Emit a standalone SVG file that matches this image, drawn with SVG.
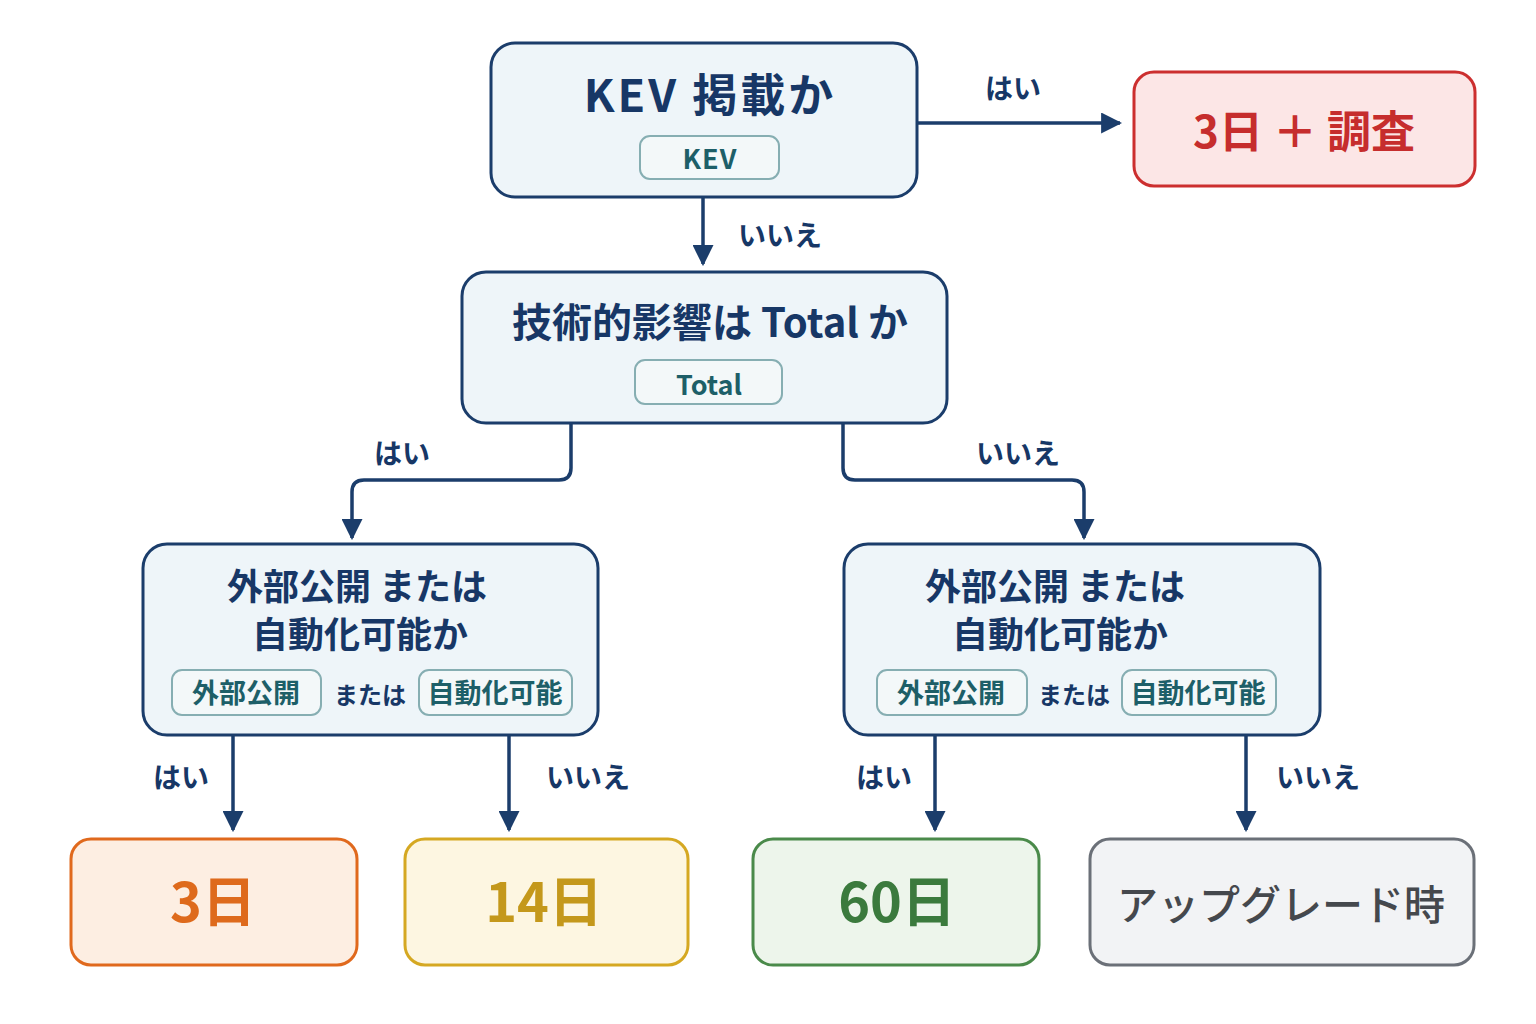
<svg xmlns="http://www.w3.org/2000/svg" width="1536" height="1024" viewBox="0 0 1536 1024">
<defs>
<style>
text{font-family:"Noto Sans CJK JP","Noto Sans",sans-serif;text-anchor:middle}
.q{fill:#eef5f9;stroke:#1b3d6b;stroke-width:3}
.qt{fill:#173766;font-weight:700}
.pill{fill:#f3f8f9;stroke:#86aeb2;stroke-width:2}
.pt{fill:#1d5f68;font-weight:700;font-size:27px}
.lbl{fill:#173766;font-weight:700;font-size:28px}
.c{fill:none;stroke:#1b3d6b;stroke-width:3.5}
</style>
<marker id="ah" viewBox="0 0 10 10" refX="9" refY="5" markerWidth="6" markerHeight="6" orient="auto" markerUnits="strokeWidth">
<path d="M0,0L10,5L0,10z" fill="#1b3d6b"/>
</marker>
</defs>
<rect width="1536" height="1024" fill="#ffffff"/>
<g id="connectors">
<path class="c" d="M917,123H1120" marker-end="url(#ah)"/>
<path class="c" d="M703,197V264" marker-end="url(#ah)"/>
<path class="c" d="M571,423V468Q571,480 559,480H364Q352,480 352,492V538" marker-end="url(#ah)"/>
<path class="c" d="M843,423V468Q843,480 855,480H1072Q1084,480 1084,492V538" marker-end="url(#ah)"/>
<path class="c" d="M233,735V830" marker-end="url(#ah)"/>
<path class="c" d="M509,735V830" marker-end="url(#ah)"/>
<path class="c" d="M935,735V830" marker-end="url(#ah)"/>
<path class="c" d="M1246,735V830" marker-end="url(#ah)"/>
<text class="lbl" x="1013" y="99">はい</text>
<text class="lbl" x="780" y="246">いいえ</text>
<text class="lbl" x="402" y="464">はい</text>
<text class="lbl" x="1018" y="464">いいえ</text>
<text class="lbl" x="181" y="788">はい</text>
<text class="lbl" x="588" y="788">いいえ</text>
<text class="lbl" x="884" y="788">はい</text>
<text class="lbl" x="1318" y="788">いいえ</text>
</g>
<g id="n-kev">
<rect class="q" x="491" y="43" width="426" height="154" rx="24"/>
<text class="qt" x="710" y="112" font-size="45" letter-spacing="3">KEV 掲載か</text>
<rect class="pill" x="640" y="136" width="139" height="43" rx="10"/>
<text class="pt" x="710" y="169" font-size="29" letter-spacing="1">KEV</text>
</g>
<g id="n-3d-inv">
<rect x="1134" y="72" width="341" height="114" rx="20" fill="#fce6e6" stroke="#cc2f2f" stroke-width="3"/>
<text x="1304" y="148" font-size="44" font-weight="700" fill="#c62d2d" xml:space="preserve">3日 ＋ 調査</text>
</g>
<g id="n-total">
<rect class="q" x="462" y="272" width="485" height="151" rx="24"/>
<text class="qt" x="710" y="337" font-size="40">技術的影響は Total か</text>
<rect class="pill" x="635" y="360" width="147" height="44" rx="10"/>
<text class="pt" x="709" y="395" font-size="31">Total</text>
</g>
<g id="n-exp-left">
<rect class="q" x="143" y="544" width="455" height="191" rx="24"/>
<text class="qt" font-size="36"><tspan x="357" y="600">外部公開 または</tspan><tspan x="360" y="648">自動化可能か</tspan></text>
<rect class="pill" x="172" y="670" width="149" height="45" rx="10"/>
<text class="pt" x="246" y="703">外部公開</text>
<text class="qt" x="370" y="704" font-size="24">または</text>
<rect class="pill" x="419" y="670" width="153" height="45" rx="10"/>
<text class="pt" x="495" y="703">自動化可能</text>
</g>
<g id="n-exp-right">
<rect class="q" x="844" y="544" width="476" height="191" rx="24"/>
<text class="qt" font-size="36"><tspan x="1055" y="600">外部公開 または</tspan><tspan x="1060" y="648">自動化可能か</tspan></text>
<rect class="pill" x="877" y="670" width="150" height="45" rx="10"/>
<text class="pt" x="951" y="703">外部公開</text>
<text class="qt" x="1074" y="704" font-size="24">または</text>
<rect class="pill" x="1122" y="670" width="154" height="45" rx="10"/>
<text class="pt" x="1198" y="703">自動化可能</text>
</g>
<g id="n-3d">
<rect x="71" y="839" width="286" height="126" rx="20" fill="#fdeee2" stroke="#e0691d" stroke-width="3"/>
<text x="213" y="922" font-size="54" font-weight="700" fill="#de6a1c">3日</text>
</g>
<g id="n-14d">
<rect x="405" y="839" width="283" height="126" rx="20" fill="#fdf6e1" stroke="#d5a822" stroke-width="3"/>
<text x="544" y="922" font-size="54" font-weight="700" fill="#c4981b">14日</text>
</g>
<g id="n-60d">
<rect x="753" y="839" width="286" height="126" rx="20" fill="#edf5eb" stroke="#4a8a4a" stroke-width="3"/>
<text x="897" y="922" font-size="54" font-weight="700" fill="#3b7a3d">60日</text>
</g>
<g id="n-upgrade">
<rect x="1090" y="839" width="384" height="126" rx="20" fill="#f2f3f5" stroke="#6b7078" stroke-width="3"/>
<text x="1281" y="920" font-size="41" font-weight="500" fill="#45484d">アップグレード時</text>
</g>
</svg>
